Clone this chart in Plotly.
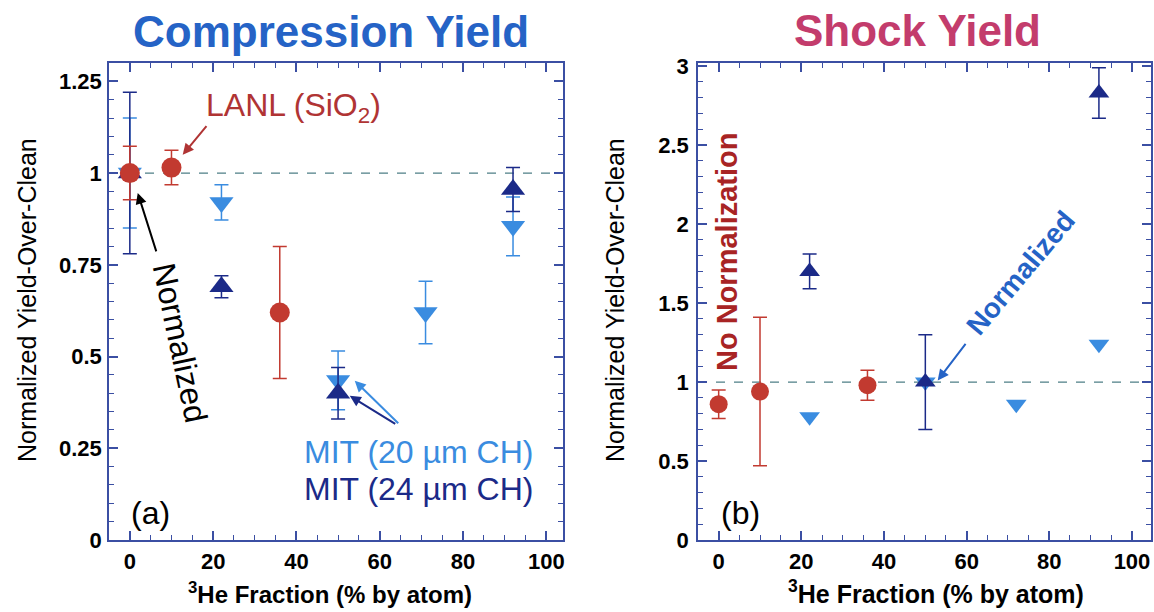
import plotly.graph_objects as go

# ---------------- data: panel (a) Compression Yield ----------------
a_lanl_x = [0, 10, 36]
a_lanl_y = [1.0, 1.015, 0.62]
a_lanl_err = [0.073, 0.047, 0.18]

a_mit20_x = [0, 22, 50, 71, 92]
a_mit20_y = [1.0, 0.92, 0.435, 0.62, 0.855]
a_mit20_err = [0.15, 0.048, 0.08, 0.085, 0.08]

a_mit24_x = [0, 22, 50, 92]
a_mit24_y = [1.0, 0.69, 0.40, 0.955]
a_mit24_err = [0.22, 0.03, 0.07, 0.06]

# ---------------- data: panel (b) Shock Yield ----------------
b_lanl_x = [0, 10, 36]
b_lanl_y = [0.86, 0.94, 0.98]
b_lanl_err = [0.09, 0.47, 0.095]

b_mit20_x = [22, 50, 72, 92]
b_mit20_y = [0.78, 1.0, 0.86, 1.24]

b_mit24_x = [22, 50, 92]
b_mit24_y = [1.70, 1.0, 2.83]
b_mit24_err = [0.11, 0.30, 0.16]

reference_level = 1.0

x_tickvals = [0, 20, 40, 60, 80, 100]
x_ticktext = ["0", "20", "40", "60", "80", "100"]
a_y_tickvals = [0, 0.25, 0.5, 0.75, 1.0, 1.25]
a_y_ticktext = ["0", "0.25", "0.5", "0.75", "1", "1.25"]
b_y_tickvals = [0, 0.5, 1.0, 1.5, 2.0, 2.5, 3.0]
b_y_ticktext = ["0", "0.5", "1", "1.5", "2", "2.5", "3"]

# ---------------- style ----------------
FONT = "Liberation Sans, Arial, sans-serif"
W, H = 1154, 612
RED = "#c23a30"
RED_TXT = "#b03434"
LIGHT = "#3a8ce0"
NAVY = "#1b2a88"
AX = "#3b4fa3"
TITLE_BLUE = "#2563c6"
TITLE_MAG = "#c33c6c"


def px(x):
    return x / W


def py(y):
    return 1 - y / H


fig = go.Figure()


def add_series(x, y, err, symbol, size, color, xa, ya):
    ey = None
    if err is not None:
        ey = dict(type="data", array=err, visible=True, color=color,
                  thickness=1.5, width=7)
    fig.add_trace(go.Scatter(
        x=x, y=y, mode="markers",
        marker=dict(symbol=symbol, size=size, color=color, line=dict(width=0)),
        error_y=ey, xaxis=xa, yaxis=ya, showlegend=False, hoverinfo="skip"))


# panel (a)
add_series(a_mit20_x, a_mit20_y, a_mit20_err, "triangle-down", 21, LIGHT, "x", "y")
add_series(a_mit24_x, a_mit24_y, a_mit24_err, "triangle-up", 21, NAVY, "x", "y")
add_series(a_lanl_x, a_lanl_y, a_lanl_err, "circle", 20, RED, "x", "y")
# panel (b)
add_series(b_mit20_x, b_mit20_y, None, "triangle-down", 18, LIGHT, "x2", "y2")
add_series(b_mit24_x, b_mit24_y, b_mit24_err, "triangle-up", 18, NAVY, "x2", "y2")
add_series(b_lanl_x, b_lanl_y, b_lanl_err, "circle", 18, RED, "x2", "y2")

tickfont = dict(family=FONT, size=22, color="black", weight="bold")


def xaxis_cfg(domain, rng, anchor):
    return dict(domain=domain, range=rng, anchor=anchor, automargin=False,
                showline=True, linecolor=AX, linewidth=1.5, mirror="ticks",
                ticks="inside", ticklen=9, tickwidth=1.5, tickcolor=AX,
                tickmode="array", tickvals=x_tickvals, ticktext=x_ticktext,
                ticklabelstandoff=1,
                minor=dict(tickmode="linear", tick0=0, dtick=5, ticks="inside",
                           ticklen=5, tickwidth=1.3, tickcolor=AX, showgrid=False),
                showgrid=False, zeroline=False, tickfont=tickfont)


def yaxis_cfg(domain, rng, anchor, tv, tt, minor_dt, standoff):
    return dict(domain=domain, range=rng, anchor=anchor, automargin=False,
                showline=True, linecolor=AX, linewidth=1.5, mirror="ticks",
                ticks="inside", ticklen=9, tickwidth=1.5, tickcolor=AX,
                tickmode="array", tickvals=tv, ticktext=tt,
                ticklabelstandoff=standoff,
                minor=dict(tickmode="linear", tick0=0, dtick=minor_dt, ticks="inside",
                           ticklen=5, tickwidth=1.3, tickcolor=AX, showgrid=False),
                showgrid=False, zeroline=False, tickfont=tickfont)


ydom = [py(540), py(63)]
fig.update_layout(
    width=W, height=H,
    margin=dict(l=0, r=0, t=0, b=0, autoexpand=False),
    paper_bgcolor="white", plot_bgcolor="white",
    xaxis=xaxis_cfg([px(109), px(563)], [-5, 104], "y"),
    yaxis=yaxis_cfg(ydom, [0, 1.3], "x", a_y_tickvals, a_y_ticktext, 0.05, 1),
    xaxis2=xaxis_cfg([px(698), px(1151)], [-5, 104.6], "y2"),
    yaxis2=yaxis_cfg(ydom, [0, 3.02], "x2", b_y_tickvals, b_y_ticktext, 0.1, 3),
    font=dict(family=FONT),
)

for xr, yr in (("x domain", "y"), ("x2 domain", "y2")):
    fig.add_shape(type="line", xref=xr, yref=yr, x0=0, x1=1,
                  y0=reference_level, y1=reference_level, layer="below",
                  line=dict(color="#4e7f86", width=1.2, dash="dash"))

ann = []


def text(x, y, s, size, color, bold=False, angle=0, xanchor="center"):
    ann.append(dict(x=px(x), y=py(y), xref="paper", yref="paper", text=s,
                    showarrow=False, textangle=angle, xanchor=xanchor, yanchor="middle",
                    font=dict(family=FONT, size=size, color=color,
                              weight="bold" if bold else "normal")))


def arrow(xr, yr, x, y, ax, ay, color):
    ann.append(dict(x=x, y=y, xref=xr, yref=yr, ax=ax, ay=ay, text="",
                    showarrow=True, arrowhead=2, arrowsize=1.1, arrowwidth=2,
                    arrowcolor=color))


# titles
text(331, 31, "Compression Yield", 44, TITLE_BLUE, bold=True)
text(918, 30, "Shock Yield", 44, TITLE_MAG, bold=True)
# axis titles
text(27, 300, "Normalized Yield-Over-Clean", 25, "black", angle=-90)
text(615, 300, "Normalized Yield-Over-Clean", 25, "black", angle=-90)
text(330, 593, "<sup>3</sup>He Fraction (% by atom)", 24, "black", bold=True)
text(936, 592, "<sup>3</sup>He Fraction (% by atom)", 25, "black", bold=True)
# panel (a) labels
text(293, 107, "LANL (SiO<sub>2</sub>)", 32, RED_TXT)
text(180, 343, "Normalized", 32, "black", angle=78)
text(418, 452, "MIT (20 \u00b5m CH)", 32, LIGHT)
text(418, 489, "MIT (24 \u00b5m CH)", 32, NAVY)
text(150, 513, "(a)", 32, "black")
# panel (b) labels
text(727, 252, "No Normalization", 29, "#a82424", bold=True, angle=-90)
text(1020, 273, "Normalized", 28, TITLE_BLUE, bold=True, angle=-50)
text(740, 513, "(b)", 32, "black")

# arrows
arrow("x", "y", 12.7, 1.05, 25, -30, RED_TXT)
arrow("x", "y", 1.9, 0.946, 19, 60, "black")
arrow("x", "y", 54, 0.434, 45, 44, LIGHT)
arrow("x", "y", 52.8, 0.393, 47, 29, NAVY)
arrow("x2", "y2", 53, 1.01, 29, -38, TITLE_BLUE)

fig.update_layout(annotations=ann)
fig.write_html("out.html")
